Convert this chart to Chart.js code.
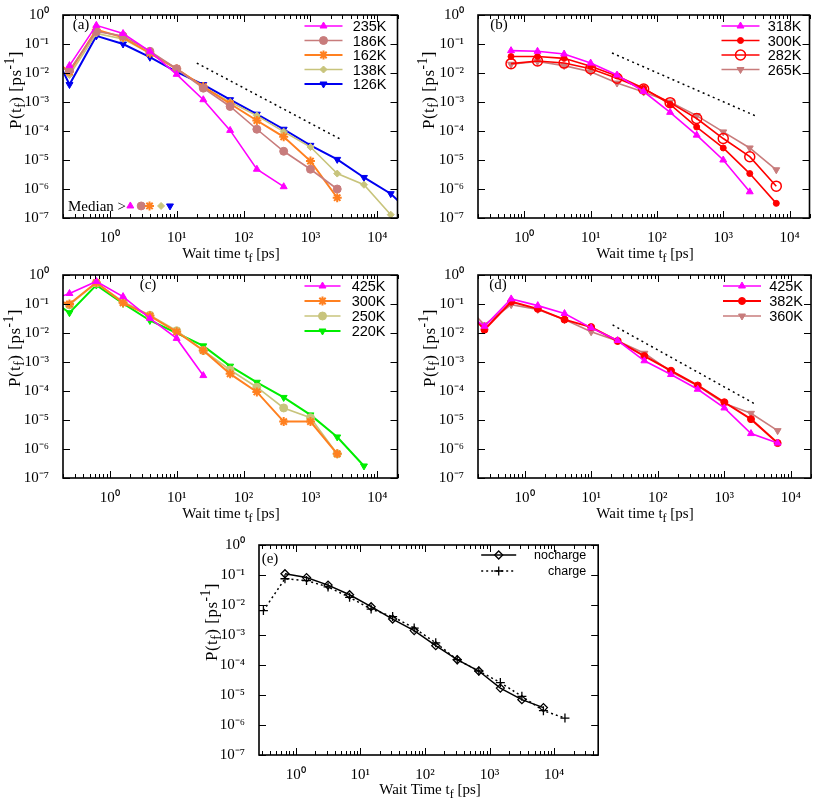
<!DOCTYPE html>
<html>
<head>
<meta charset="utf-8">
<script src="https://cdn.jsdelivr.net/npm/chart.js@4"></script>
<style>
  body { margin: 0; background: #fff; width: 817px; height: 799px; position: relative; overflow: hidden; }
  .box { position: absolute; }
  .t { position: absolute; font: 15px "Liberation Serif", serif; color: #000; white-space: nowrap; transform: translate(-50%, -50%); }
  .ty { transform: translate(-50%, -50%) rotate(-90deg); font-size: 17px; letter-spacing: 0.5px; }
  .t sub, .t sup { font-size: 80%; line-height: 0; }
</style>
</head>
<body>

<div class="box" id="boxA"><canvas id="chartA"></canvas></div>
<div class="box" id="boxB"><canvas id="chartB"></canvas></div>
<div class="box" id="boxC"><canvas id="chartC"></canvas></div>
<div class="box" id="boxD"><canvas id="chartD"></canvas></div>
<div class="box" id="boxE"><canvas id="chartE"></canvas></div>

<div class="t" style="left:81px;top:24px">(a)</div>
<div class="t" style="left:499px;top:24px">(b)</div>
<div class="t" style="left:148px;top:284px">(c)</div>
<div class="t" style="left:498px;top:284px">(d)</div>
<div class="t" style="left:270px;top:558px">(e)</div>
<div class="t" style="left:97px;top:206px">Median &gt;</div>

<div class="t" style="left:231px;top:253px">Wait time t<sub>f</sub> [ps]</div>
<div class="t" style="left:645px;top:253px">Wait time t<sub>f</sub> [ps]</div>
<div class="t" style="left:231px;top:513px">Wait time t<sub>f</sub> [ps]</div>
<div class="t" style="left:645px;top:513px">Wait time t<sub>f</sub> [ps]</div>
<div class="t" style="left:430px;top:789px">Wait Time t<sub>f</sub> [ps]</div>

<div class="t ty" style="left:16px;top:90px">P(t<sub>f</sub>) [ps<sup>-1</sup>]</div>
<div class="t ty" style="left:429px;top:90px">P(t<sub>f</sub>) [ps<sup>-1</sup>]</div>
<div class="t ty" style="left:15px;top:348px">P(t<sub>f</sub>) [ps<sup>-1</sup>]</div>
<div class="t ty" style="left:430px;top:348px">P(t<sub>f</sub>) [ps<sup>-1</sup>]</div>
<div class="t ty" style="left:212px;top:622px">P(t<sub>f</sub>) [ps<sup>-1</sup>]</div>

<script>
// ---- panel (a)
const tA   = [0.1, 0.25, 0.63, 1.58, 3.98, 10, 25, 63, 158, 398, 1000, 2512, 6310, 15850, 39810];
const a235 = [null, 0.018, 0.44, 0.23, 0.056, 0.009, 0.0012, 1.05e-4, 4.8e-6, 1.2e-6, null, null, null, null, null];
const a186 = [0.02, 0.0125, 0.27, 0.19, 0.056, 0.014, 0.003, 7e-4, 1.15e-4, 2e-5, 4.8e-6, 1e-6, null, null, null];
const a162 = [0.052, 0.011, 0.31, 0.17, 0.048, 0.014, 0.0034, 8.7e-4, 2.3e-4, 6.3e-5, 9.2e-6, 5e-7, null, null, null];
const a138 = [0.13, 0.0085, 0.23, 0.15, 0.048, 0.014, 0.0033, 1e-3, 3.4e-4, 9.5e-5, 2.8e-5, 3.4e-6, 1.4e-6, 1.3e-7, null];
const a126 = [0.3, 0.004, 0.19, 0.1, 0.035, 0.011, 0.004, 1.2e-3, 3.8e-4, 1.15e-4, 3.2e-5, 1.05e-5, 2.5e-6, 6.9e-7, 9e-8];
const medianX = [2.03, 2.95, 3.93, 5.85, 7.95];
const medianY = [2.6e-7, 2.6e-7, 2.6e-7, 2.6e-7, 2.6e-7];
const slopeAX = [20, 2950];
const slopeAY = [0.022, 4.9e-5];

// ---- panel (b)
const tB   = [0.63, 1.58, 3.98, 10, 25, 63, 158, 398, 1000, 2512, 6310];
const b318 = [0.059, 0.056, 0.045, 0.022, 8.5e-3, 2.3e-3, 4.4e-4, 7.2e-5, 1e-5, 8e-7, null];
const b300 = [0.037, 0.037, 0.032, 0.017, 7.9e-3, 3e-3, 8.3e-4, 1.37e-4, 2.6e-5, 3.4e-6, 3.2e-7];
const b282 = [0.021, 0.026, 0.022, 0.014, 6.6e-3, 2.8e-3, 9.5e-4, 2.7e-4, 5.5e-5, 1.3e-5, 1.25e-6];
const b265 = [0.02, 0.025, 0.018, 0.011, 4.5e-3, 2.2e-3, 1e-3, 3.4e-4, 9.3e-5, 2.6e-5, 4.6e-6];
const slopeBX = [21, 3000];
const slopeBY = [0.049, 3.4e-4];

// ---- panel (c)
const tC   = [0.1, 0.25, 0.63, 1.58, 3.98, 10, 25, 63, 158, 398, 1000, 2512, 6310];
const c425 = [0.11, 0.23, 0.6, 0.18, 0.032, 6.5e-3, 3.4e-4, null, null, null, null, null, null];
const c300 = [0.17, 0.1, 0.55, 0.11, 0.039, 0.011, 2.5e-3, 3.9e-4, 9.3e-5, 8.8e-6, 8.8e-6, 6.8e-7, null];
const c250 = [0.15, 0.093, 0.53, 0.12, 0.041, 0.012, 2.5e-3, 5.3e-4, 1.35e-4, 2.6e-5, 1.2e-5, 6.8e-7, null];
const c220 = [0.22, 0.05, 0.45, 0.105, 0.027, 0.01, 3.6e-3, 7.2e-4, 2e-4, 6e-5, 1.5e-5, 2.6e-6, 2.6e-7];

// ---- panel (d)
const tD   = [0.1, 0.25, 0.63, 1.58, 3.98, 10, 25, 63, 158, 398, 1000, 2512, 6310];
const d425 = [0.083, 0.017, 0.15, 0.088, 0.047, 0.015, 5.5e-3, 1.1e-3, 3.7e-4, 1.15e-4, 2.6e-5, 3.4e-6, 1.6e-6];
const d382 = [0.14, 0.013, 0.12, 0.068, 0.029, 0.016, 5.3e-3, 1.6e-3, 5e-4, 1.55e-4, 4.1e-5, 1.07e-5, 1.6e-6];
const d360 = [0.17, 0.019, 0.095, 0.065, 0.029, 0.011, 5.3e-3, 2e-3, 4.6e-4, 1.5e-4, 3.7e-5, 1.7e-5, 4.3e-6];
const slopeDX = [21, 3000];
const slopeDY = [0.019, 3.4e-5];

// ---- panel (e)
const tE       = [0.316, 0.681, 1.468, 3.162, 6.81, 14.68, 31.6, 68.1, 146.8, 316, 681, 1468, 3162, 6813, 14678];
const noCharge = [null, 0.11, 0.082, 0.046, 0.022, 0.0088, 0.0034, 1.4e-3, 4.4e-4, 1.5e-4, 6.3e-5, 1.7e-5, 7e-6, 3.8e-6, null];
const charge   = [6.5e-3, 0.075, 0.065, 0.04, 0.018, 0.0073, 0.0041, 1.7e-3, 5.5e-4, 1.5e-4, 6.3e-5, 2.6e-5, 9e-6, 3e-6, 1.7e-6];

const MAGENTA = "#ff00ff", ROSY = "#c87c7c", ORANGE = "#ff8020", TAN = "#c8c47c",
      BLUE = "#0000f0", RED = "#ff0000", GREEN = "#00ee00";

const SUP = { "0": "⁰", "1": "¹", "2": "²", "3": "³", "4": "⁴", "5": "⁵", "6": "⁶", "7": "⁷", "8": "⁸", "9": "⁹", "-": "⁻" };
const isDecade = v => Math.abs(Math.log10(v) - Math.round(Math.log10(v))) < 1e-6;
const decadeLabel = v => isDecade(v) ? "10" + String(Math.round(Math.log10(v))).split("").map(c => SUP[c]).join("") : "";

function logTicks(min, max, minor) {
  const out = [];
  for (let e = Math.floor(Math.log10(min)); e <= Math.ceil(Math.log10(max)); e++) {
    for (let d = 1; d <= (minor ? 9 : 1); d++) {
      const v = d * Math.pow(10, e);
      if (v >= min * 0.999 && v <= max * 1.001) out.push(v);
    }
  }
  return out;
}

function pts(xs, ys) {
  return xs.map((x, i) => ({ x, y: ys[i] })).filter(p => p.y != null);
}

function series(label, xs, ys, color, style, extra) {
  return Object.assign({
    label, data: pts(xs, ys),
    borderColor: color, backgroundColor: color,
    pointBorderColor: color, pointBackgroundColor: color,
    borderWidth: 1.6, pointStyle: style, pointRadius: 4, pointBorderWidth: 1,
    pointRotation: 0, tension: 0, inKey: true
  }, extra || {});
}

function slope(xs, ys) {
  return { data: pts(xs, ys), borderColor: "#000", borderWidth: 1.5, borderDash: [2, 3.5],
           pointRadius: 0, inKey: false };
}

// frame + inward ticks on all four sides, like gnuplot
const frame = {
  id: "frame",
  afterDraw(chart) {
    const { ctx, chartArea: a, scales: { x, y } } = chart;
    ctx.save();
    ctx.strokeStyle = "#000";
    ctx.lineWidth = 1;
    ctx.beginPath();
    x.ticks.forEach(t => {
      const px = Math.round(x.getPixelForValue(t.value)) + 0.5;
      if (px < a.left - 1 || px > a.right + 1) return;
      const len = isDecade(t.value) ? 7 : 4;
      ctx.moveTo(px, a.bottom); ctx.lineTo(px, a.bottom - len);
      ctx.moveTo(px, a.top); ctx.lineTo(px, a.top + len);
    });
    y.ticks.forEach(t => {
      const py = Math.round(y.getPixelForValue(t.value)) + 0.5;
      ctx.moveTo(a.left, py); ctx.lineTo(a.left + 7, py);
      ctx.moveTo(a.right, py); ctx.lineTo(a.right - 7, py);
    });
    ctx.stroke();
    ctx.lineWidth = 1.6;
    ctx.strokeRect(a.left, a.top, a.right - a.left, a.bottom - a.top);
    ctx.restore();
  }
};

// gnuplot style key: sample line with marker, right-justified text
const key = {
  id: "key",
  afterDraw(chart, args, o) {
    if (!o || !o.font) return;
    const { ctx, chartArea: a } = chart;
    const textRight = a.right - o.right;
    let row = 0;
    ctx.save();
    chart.data.datasets.forEach(ds => {
      if (!ds.inKey) return;
      const yy = a.top + o.top + row * o.dy;
      const x1 = textRight - o.s1, x2 = textRight - o.s2;
      ctx.strokeStyle = ds.borderColor;
      ctx.lineWidth = ds.borderWidth;
      ctx.setLineDash(ds.borderDash || []);
      ctx.beginPath(); ctx.moveTo(x1, yy); ctx.lineTo(x2, yy); ctx.stroke();
      ctx.setLineDash([]);
      ctx.fillStyle = ds.pointBackgroundColor;
      ctx.strokeStyle = ds.pointBorderColor;
      ctx.lineWidth = ds.pointBorderWidth;
      Chart.helpers.drawPoint(ctx, { pointStyle: ds.pointStyle, radius: ds.pointRadius,
        rotation: ds.pointRotation, borderWidth: ds.pointBorderWidth }, (x1 + x2) / 2, yy);
      ctx.fillStyle = "#000";
      ctx.font = o.font;
      ctx.textAlign = "right";
      ctx.textBaseline = "middle";
      ctx.fillText(ds.label, textRight, yy + 1);
      row++;
    });
    ctx.restore();
  }
};

const Y_W = 50, X_H = 30, PAD_T = 10, PAD_R = 4;

function makeChart(id, boxId, area, xMin, xMax, datasets, keyOpts) {
  const box = document.getElementById(boxId);
  box.style.left = (area[0] - Y_W) + "px";
  box.style.top = (area[1] - PAD_T) + "px";
  box.style.width = (area[2] - area[0] + Y_W + PAD_R) + "px";
  box.style.height = (area[3] - area[1] + PAD_T + X_H) + "px";
  const tickFont = { family: "Liberation Serif", size: 15 };
  return new Chart(document.getElementById(id), {
    type: "line",
    data: { datasets },
    options: {
      responsive: true, maintainAspectRatio: false, animation: false, events: [],
      layout: { padding: { left: 0, top: PAD_T, right: PAD_R, bottom: 0 } },
      plugins: { legend: { display: false }, tooltip: { enabled: false }, key: keyOpts },
      scales: {
        x: {
          type: "logarithmic", min: xMin, max: xMax,
          grid: { display: false }, border: { display: false },
          afterBuildTicks: s => { s.ticks = logTicks(xMin, xMax, true).map(v => ({ value: v })); },
          afterFit: s => { s.height = X_H; },
          ticks: { autoSkip: false, maxRotation: 0, padding: 3, color: "#000", font: tickFont, callback: decadeLabel }
        },
        y: {
          type: "logarithmic", min: 1e-7, max: 1,
          grid: { display: false }, border: { display: false },
          afterBuildTicks: s => { s.ticks = logTicks(1e-7, 1, false).map(v => ({ value: v })); },
          afterFit: s => { s.width = Y_W; },
          ticks: { autoSkip: false, padding: 6, color: "#000", font: tickFont, callback: decadeLabel }
        }
      }
    },
    plugins: [frame, key]
  });
}

const keyFont = "14.5px 'Liberation Sans', sans-serif";

makeChart("chartA", "boxA", [63, 10, 400, 218], 0.2, 20000, [
  series("235K", tA, a235, MAGENTA, "triangle"),
  series("186K", tA, a186, ROSY, "circle"),
  series("162K", tA, a162, ORANGE, "star", { pointRadius: 4.5, pointBorderWidth: 2, borderWidth: 2 }),
  series("138K", tA, a138, TAN, "rectRot", { pointRadius: 3.5 }),
  series("126K", tA, a126, BLUE, "triangle", { pointRotation: 180, borderWidth: 2 }),
  { data: pts(medianX, medianY), showLine: false, inKey: false,
    pointStyle: ["triangle", "circle", "star", "rectRot", "triangle"],
    pointRotation: [0, 0, 0, 0, 180],
    pointRadius: [4, 4, 4.5, 3.5, 4], pointBorderWidth: [1, 1, 2, 1, 1],
    pointBackgroundColor: [MAGENTA, ROSY, ORANGE, TAN, BLUE],
    pointBorderColor: [MAGENTA, ROSY, ORANGE, TAN, BLUE] },
  slope(slopeAX, slopeAY)
], { font: keyFont, right: 11, s1: 82, s2: 44, top: 11, dy: 14.5 });

makeChart("chartB", "boxB", [478, 10, 812, 218], 0.2, 20000, [
  series("318K", tB, b318, MAGENTA, "triangle"),
  series("300K", tB, b300, RED, "circle", { pointRadius: 3 }),
  series("282K", tB, b282, RED, "circle", { pointRadius: 5, pointBackgroundColor: "rgba(0,0,0,0)", pointBorderWidth: 1.5 }),
  series("265K", tB, b265, ROSY, "triangle", { pointRotation: 180 }),
  slope(slopeBX, slopeBY)
], { font: keyFont, right: 8, s1: 80, s2: 42, top: 11, dy: 14.5 });

makeChart("chartC", "boxC", [63, 270, 400, 478], 0.2, 20000, [
  series("425K", tC, c425, MAGENTA, "triangle"),
  series("300K", tC, c300, ORANGE, "star", { pointRadius: 4.5, pointBorderWidth: 2, borderWidth: 2 }),
  series("250K", tC, c250, TAN, "circle"),
  series("220K", tC, c220, GREEN, "triangle", { pointRotation: 180, borderWidth: 2 })
], { font: keyFont, right: 12, s1: 81, s2: 45, top: 11, dy: 15 });

makeChart("chartD", "boxD", [478, 270, 812, 478], 0.2, 20000, [
  series("425K", tD, d425, MAGENTA, "triangle"),
  series("382K", tD, d382, RED, "circle", { pointRadius: 3.5, borderWidth: 2 }),
  series("360K", tD, d360, ROSY, "triangle", { pointRotation: 180 }),
  slope(slopeDX, slopeDY)
], { font: keyFont, right: 8, s1: 80, s2: 42, top: 11, dy: 15 });

makeChart("chartE", "boxE", [259, 540, 600, 755], 0.27, 48000, [
  series("nocharge", tE, noCharge, "#000", "rectRot", { pointRadius: 4, pointBackgroundColor: "rgba(0,0,0,0)", pointBorderWidth: 1.3, borderWidth: 1.5 }),
  series("charge", tE, charge, "#000", "cross", { pointRadius: 4.5, pointBorderWidth: 1.3, borderWidth: 1.5, borderDash: [2, 3] })
], { font: "12.5px 'Liberation Sans', sans-serif", right: 12, s1: 105, s2: 70, top: 10, dy: 16 });
</script>
</body>
</html>
